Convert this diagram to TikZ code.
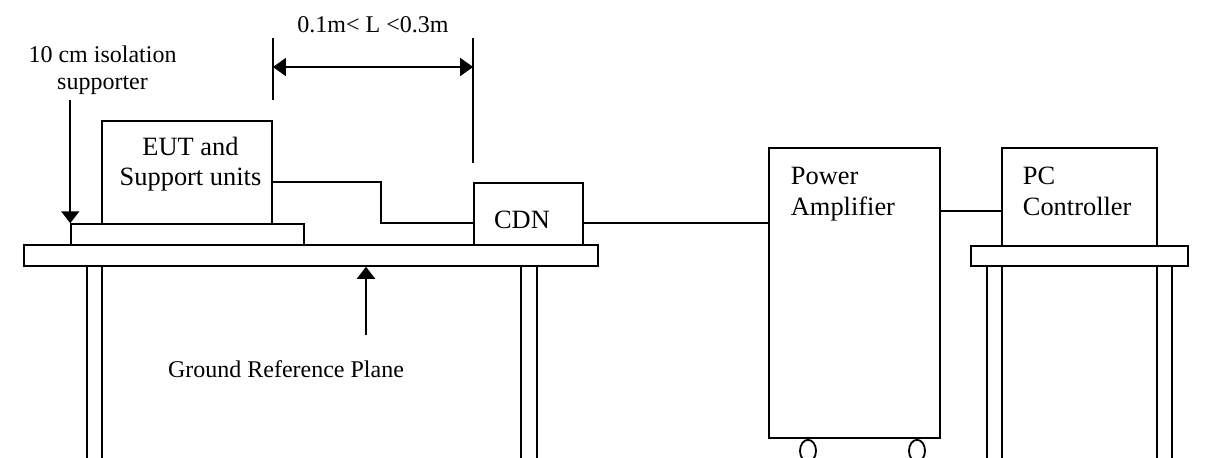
\documentclass[tikz,border=0pt]{standalone}
\usepackage{fontspec}
\setmainfont{Liberation Serif}
\usetikzlibrary{positioning,arrows.meta,shapes.geometric}

\begin{document}
\begin{tikzpicture}[
    x=0.5pt, y=-0.5pt,
    line width=0.9pt,
    font=\fontsize{12}{13.5}\selectfont,
    unit/.style={rectangle, draw, inner sep=0pt},
    slab/.style={rectangle, draw, line width=0.75pt, inner sep=0pt},
    wheel/.style={ellipse, draw, minimum width=8pt, minimum height=11pt, inner sep=0pt, anchor=north},
    lbl/.style={inner sep=0pt},
    boxlbl/.style={inner sep=0pt, font=\fontsize{13.2}{15.3}\selectfont},
    arr/.style={-{Triangle[length=6pt,width=9pt]}},
    dimarr/.style={{Triangle[length=6.5pt,width=9pt]}-{Triangle[length=6.5pt,width=9pt]}}
]
\useasboundingbox (0,0) rectangle (1220,457);

\node[slab, minimum width=287pt, minimum height=10.5pt] (table) at (311,255.5) {};
\node[slab, minimum width=116.5pt, minimum height=10.5pt] (sup) at (187.5,234.5) {};
\node[unit, minimum width=85pt, minimum height=51.5pt] (eut) at (187,172.5) {};
\node[unit, minimum width=54.5pt, minimum height=31pt] (cdn) at (528.5,214) {};
\node[unit, minimum width=85.5pt, minimum height=145pt] (amp) at (854.5,293) {};
\node[slab, minimum width=108.5pt, minimum height=10pt] (pctable) at (1079.5,256) {};
\node[unit, minimum width=77.5pt, minimum height=49pt] (pc) at (1079.5,197) {};
\node[wheel] (wheelL) at (amp.south -| 808,0) {};
\node[wheel] (wheelR) at (amp.south -| 917,0) {};

\node[boxlbl, align=center] (eutlbl) at (190.5,164) {EUT and\\Support units};
\node[boxlbl, anchor=base] (cdnlbl) at (522,228) {CDN};
\node[boxlbl, align=left, anchor=north west] (amplbl) at (790,166.5) {Power\\Amplifier};
\node[boxlbl, align=left, anchor=north west] (pclbl) at (1022,166.5) {PC\\Controller};
\node[lbl, align=center] (suplbl) at (102.5,70) {10 cm isolation\\supporter};
\node[lbl, anchor=base] (grplbl) at (286,377) {Ground Reference Plane};
\node[lbl, anchor=base] (dimlbl) at (373,32) {0.1m< L <0.3m};

\foreach \x in {87,102,521,537}
  \draw[line width=0.75pt] (\x,266) -- (\x,470);
\foreach \x in {987,1002,1157,1172}
  \draw[line width=0.75pt] (\x,266) -- (\x,470);

\coordinate (jog) at (381,200);
\draw (eut.east |- cdn.north) -| (jog) |- (cdn.west |- sup.north);
\draw (cdn.east |- sup.north) -- (amp.west |- sup.north);
\draw ([yshift=-7pt]pc.west) -- ([yshift=-7pt]pc.west -| amp.east);

\draw (eut.east |- 0,38) -- (eut.east |- 0,100);
\draw (cdn.west |- 0,38) -- (cdn.west |- 0,163);
\draw[dimarr] (eut.east |- 0,67) -- (cdn.west |- 0,67);

\draw[arr] (sup.north west |- 0,100) -- (sup.north west);
\coordinate (grptail) at (366,335);
\draw[arr] (grptail) -- (grptail |- table.south);
\end{tikzpicture}
\end{document}
